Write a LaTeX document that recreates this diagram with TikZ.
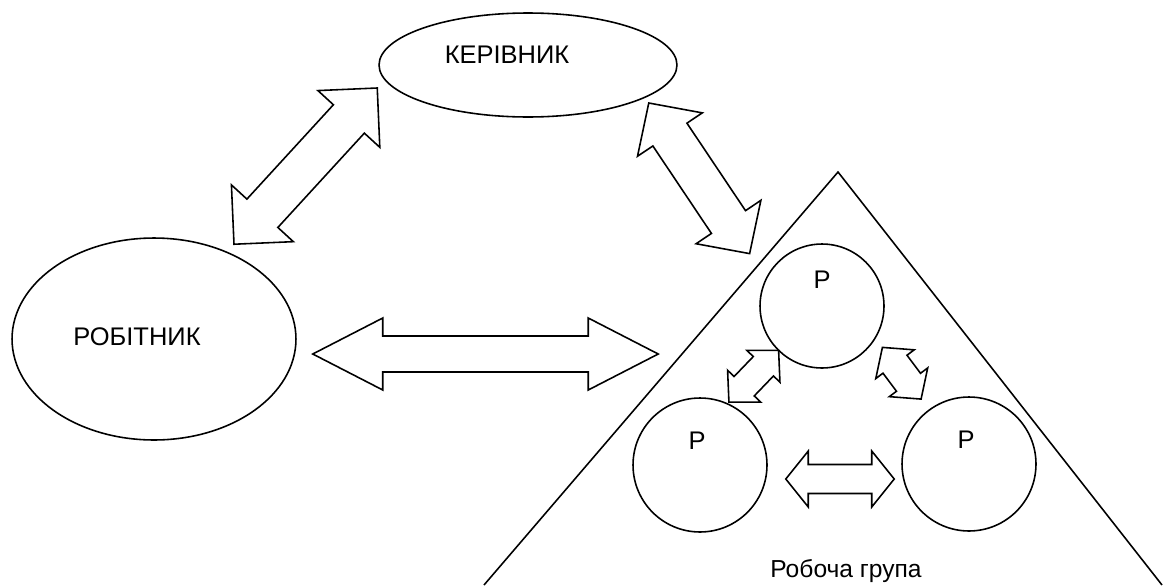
\documentclass[tikz,border=0pt]{standalone}
\usepackage{fontspec}
\setmainfont{Liberation Sans}
\usetikzlibrary{calc,shapes.geometric}

\begin{document}
\begin{tikzpicture}[
    x=0.02cm, y=-0.02cm,
    line width=0.9pt,
    role/.style={ellipse, draw},
    member/.style={circle, draw, minimum size=#1},
    lbl/.style={font=\fontsize{14.5}{17}\selectfont, inner sep=0pt},
    link/.style n args={3}{draw, to path={
        let \p1=(\tikztostart), \p2=(\tikztotarget),
            \n1={atan2(\y2-\y1,\x2-\x1)} in
        (\p1) -- ($(\p1)+(\n1:#1)+(\n1+90:#2)$)
              -- ($(\p1)+(\n1:#1)+(\n1+90:#3)$)
              -- ($(\p2)+(\n1:-#1)+(\n1+90:#3)$)
              -- ($(\p2)+(\n1:-#1)+(\n1+90:#2)$)
        -- (\p2) -- ($(\p2)+(\n1:-#1)+(\n1-90:#2)$)
              -- ($(\p2)+(\n1:-#1)+(\n1-90:#3)$)
              -- ($(\p1)+(\n1:#1)+(\n1-90:#3)$)
              -- ($(\p1)+(\n1:#1)+(\n1-90:#2)$) -- cycle}}
]
\useasboundingbox (0,0) rectangle (1169,585);

% Roles
\node[role, minimum width=5.96cm, minimum height=2.08cm] (kerivnyk) at (528,65) {};
\node[lbl] (kerivnyk txt) at (507,55) {КЕРІВНИК};
\node[role, minimum width=5.68cm, minimum height=4.04cm] (robitnyk) at (154,339) {};
\node[lbl] (robitnyk txt) at (137,337) {РОБІТНИК};

% Work group
\coordinate (group top) at (838,172);
\coordinate (group left) at (484,585);
\coordinate (group right) at (1162,585);
\draw (group left) -- (group top) -- (group right);
\node[member=2.48cm] (ptop) at (822,306) {};
\node[member=2.68cm] (pleft) at (700,465) {};
\node[member=2.68cm] (pright) at (969,464) {};
\node[lbl] (ptop txt) at (822,280) {Р};
\node[lbl] (pleft txt) at (697,441) {Р};
\node[lbl] (pright txt) at (966,440) {Р};
\node[lbl, font=\fontsize{14}{17}\selectfont, anchor=base] (group txt) at (846,577) {Робоча група};

% Arrows
\draw[link={0.84cm}{0.84cm}{0.42cm}] ($(robitnyk.north)+(80,7)$) to ($(kerivnyk.west)+(-1,23)$);
\draw[link={0.76cm}{0.78cm}{0.41cm}] ($(kerivnyk.east)+(-29,38)$) to ($(ptop.north west)+(-28,-8)$);
\draw[link={1.4cm}{0.72cm}{0.36cm}] ($(robitnyk.east)+(16,15)$) to ($(ptop.west)+(-101,48)$);
\draw[link={0.44cm}{0.46cm}{0.28cm}] ($(pleft.north east)+(-19,-15)$) to ($(ptop.south west)+(1,0)$);
\draw[link={0.42cm}{0.48cm}{0.30cm}] ($(ptop.south east)+(16,-3)$) to ($(pright.north west)+(0,-17)$);
\draw[link={0.45cm}{0.56cm}{0.29cm}] ($(pleft.east)+(18,14)$) to ($(pright.west)+(-7,15)$);

\end{tikzpicture}
\end{document}
